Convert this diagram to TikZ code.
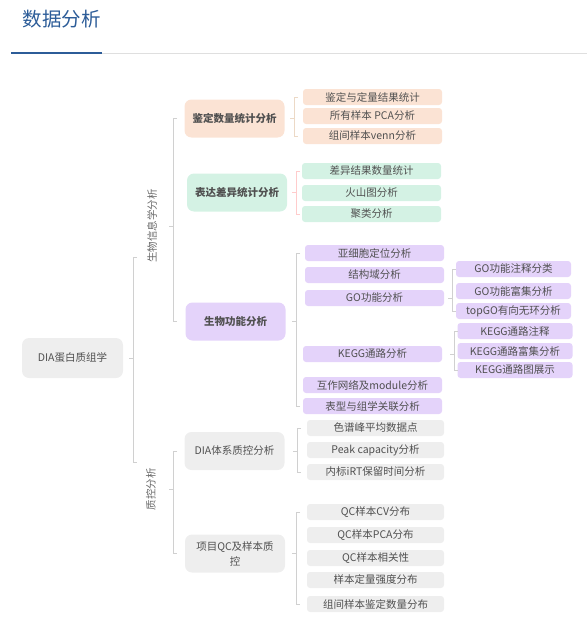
\documentclass[tikz,border=0pt]{standalone}
\usepackage{fontspec}
\setmainfont{Noto Sans CJK SC}
\usepackage{tikz}
\definecolor{peach}{RGB}{251,227,212}
\definecolor{mint}{RGB}{212,242,228}
\definecolor{lilac}{RGB}{228,211,250}
\definecolor{pale}{RGB}{238,238,238}
\definecolor{ink}{RGB}{80,80,80}
\definecolor{titleblue}{RGB}{44,92,152}
\definecolor{forkgray}{RGB}{208,208,208}
\tikzset{
  mainbox/.style={minimum width=100pt,minimum height=38pt,inner sep=0pt,
    rounded corners=7pt,text=ink,font=\fontsize{10.5}{15}\selectfont},
  leafbox/.style={minimum width=139pt,minimum height=16pt,inner sep=0pt,
    rounded corners=3pt,text=ink,font=\fontsize{10.5}{12}\selectfont},
  subleaf/.style={leafbox,minimum width=115pt},
  sidelabel/.style={rotate=90,text=ink!85,font=\fontsize{10.5}{12}\selectfont},
}
\newcommand{\fork}[5][forkgray]{%
  \draw[#1,thin] (#2,0 |- #3) ++(4,0) -- ++(-4,0) -- (#2,0 |- #4) -- ++(4,0);%
  \draw[#1,thin] (#2,0 |- #5) -- ++(-4,0);%
}

\begin{document}
\begin{tikzpicture}[x=1pt,y=-1pt]
  \useasboundingbox (0,0) rectangle (587,626);
  \node[anchor=west,text=titleblue,font=\fontsize{19.5}{22}\selectfont] (ttl) at (19,19) {数据分析};
  \draw[gray!25] (102,53)--(587,53);
  \draw[titleblue,line width=2pt] (11,53)--(102,53);

  \node[mainbox,fill=pale,minimum width=101pt,minimum height=40pt] (root) at (72.5,358) {DIA蛋白质组学};
  \node[sidelabel] (biolab) at (152,226) {生物信息学分析};
  \node[sidelabel] (qclab) at (151,489) {质控分析};
  \coordinate (biotop) at (133,257);
  \coordinate (qcbot) at (133,462);
  \fork{133}{biotop}{qcbot}{root}

  \node[mainbox,fill=peach,font=\fontsize{10.5}{12}\bfseries] (ident) at (234.5,118.5) {鉴定数量统计分析};
  \node[mainbox,fill=mint,font=\fontsize{10.5}{12}\bfseries] (diff) at (237,192.5) {表达差异统计分析};
  \node[mainbox,fill=lilac,font=\fontsize{10.5}{12}\bfseries] (func) at (235.5,321.5) {生物功能分析};
  \node[mainbox,fill=pale] (diaqc) at (234.5,451) {DIA体系质控分析};
  \node[mainbox,fill=pale,align=center] (projqc) at (235,553.5) {项目QC及样本质\\控};
  \fork{173}{ident}{func}{biolab}
  \fork{173}{diaqc}{projqc}{qclab}

  \node[leafbox,fill=peach] (id1) at (372.5,97) {鉴定与定量结果统计};
  \node[leafbox,fill=peach] (id2) at (372.5,116) {所有样本 PCA分析};
  \node[leafbox,fill=peach] (id3) at (372.5,136) {组间样本venn分析};
  \fork[brown!30]{294}{id1}{id3}{ident}

  \node[leafbox,fill=mint] (df1) at (371.5,171) {差异结果数量统计};
  \node[leafbox,fill=mint] (df2) at (371.5,193) {火山图分析};
  \node[leafbox,fill=mint] (df3) at (371.5,214) {聚类分析};
  \fork[red!20]{296}{df1}{df3}{diff}

  \node[leafbox,fill=lilac] (fn1) at (374.5,253) {亚细胞定位分析};
  \node[leafbox,fill=lilac] (fn2) at (374.5,275) {结构域分析};
  \node[leafbox,fill=lilac] (fn3) at (374.5,298) {GO功能分析};
  \node[leafbox,fill=lilac] (fn4) at (372.5,354) {KEGG通路分析};
  \node[leafbox,fill=lilac] (fn5) at (372.5,385) {互作网络及module分析};
  \node[leafbox,fill=lilac] (fn6) at (372.5,406) {表型与组学关联分析};
  \fork{296}{fn1}{fn6}{func}

  \node[subleaf,fill=lilac] (go1) at (513.5,269) {GO功能注释分类};
  \node[subleaf,fill=lilac] (go2) at (513.5,291) {GO功能富集分析};
  \node[subleaf,fill=lilac] (go3) at (513.5,311) {topGO有向无环分析};
  \fork{452}{go1}{go3}{fn3}
  \node[subleaf,fill=lilac] (kg1) at (515,331) {KEGG通路注释};
  \node[subleaf,fill=lilac] (kg2) at (515,351) {KEGG通路富集分析};
  \node[subleaf,fill=lilac] (kg3) at (515,370) {KEGG通路图展示};
  \fork{454}{kg1}{kg3}{fn4}

  \node[leafbox,fill=pale,minimum width=137pt] (dq1) at (375.5,428) {色谱峰平均数据点};
  \node[leafbox,fill=pale,minimum width=137pt] (dq2) at (375.5,450) {Peak capacity分析};
  \node[leafbox,fill=pale,minimum width=137pt] (dq3) at (375.5,472) {内标iRT保留时间分析};
  \fork{297}{dq1}{dq3}{diaqc}

  \node[leafbox,fill=pale,minimum width=137pt] (pq1) at (375.5,512) {QC样本CV分布};
  \node[leafbox,fill=pale,minimum width=137pt] (pq2) at (375.5,535) {QC样本PCA分布};
  \node[leafbox,fill=pale,minimum width=137pt] (pq3) at (375.5,558) {QC样本相关性};
  \node[leafbox,fill=pale,minimum width=137pt] (pq4) at (375.5,580) {样本定量强度分布};
  \node[leafbox,fill=pale,minimum width=137pt] (pq5) at (375.5,604) {组间样本鉴定数量分布};
  \fork{296}{pq1}{pq5}{projqc}
\end{tikzpicture}
\end{document}
